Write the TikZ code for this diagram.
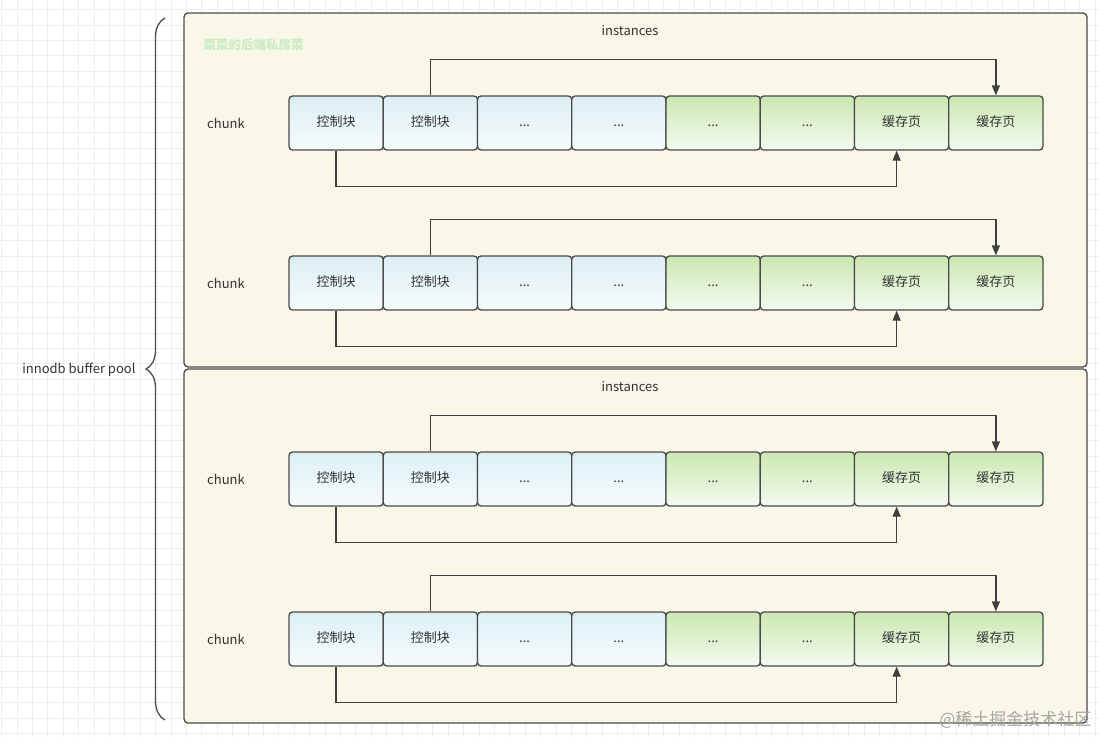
\documentclass[tikz,border=0pt]{standalone}
\usepackage{fontspec}
\setmainfont{Noto Sans CJK SC}
\usetikzlibrary{arrows.meta,decorations.pathreplacing}
\definecolor{creamfill}{HTML}{F9F7E8}
\definecolor{edgegray}{HTML}{4A4A4A}
\definecolor{linegray}{HTML}{3F3F3F}
\definecolor{textgray}{HTML}{333333}
\definecolor{gridgray}{HTML}{EDEDED}
\definecolor{blueTop}{HTML}{DCEFF4}
\definecolor{blueBot}{HTML}{F6FBFC}
\definecolor{greenTop}{HTML}{CBE8B2}
\definecolor{greenBot}{HTML}{F3FAEF}
\definecolor{markgreen}{HTML}{CDEBC3}
\newcommand{\dotz}{...}

\begin{document}
\begin{tikzpicture}[x=1pt,y=-1pt,
  every node/.style={font=\fontsize{13}{15}\selectfont, text=textgray},
  poolbox/.style={draw=edgegray, line width=1.3pt, rounded corners=4pt, fill=creamfill,
    minimum width=903pt, minimum height=354pt, inner sep=0pt},
  cellbox/.style={draw=edgegray, line width=1.3pt, rounded corners=3.5pt,
    minimum width=94.25pt, minimum height=54pt, inner sep=0pt,
    text height=9.5pt, text depth=2.5pt},
  ctrlcell/.style={cellbox, top color=blueTop, bottom color=blueBot},
  pagecell/.style={cellbox, top color=greenTop, bottom color=greenBot},
  link/.style={draw=linegray, line width=1.3pt, -{Triangle[length=10pt,width=8pt]}},
  gridline/.style={draw=gridgray, line width=0.7pt}]
\useasboundingbox[fill=white] (0,0) rectangle (1099,737);
% background grid
\foreach \gx in {1.5,16.9,...,1099} \draw[gridline] (\gx,0) -- (\gx,737);
\foreach \gy in {9.5,24.9,...,737} \draw[gridline] (0,\gy) -- (1099,\gy);

% the two instances
\node [poolbox] (inst1) at (635.5,190) {};
\node [poolbox] (inst2) at (635.5,546) {};
\node (lbl1) at (630,31) {instances};
\node (lbl2) at (630,387) {instances};
\node [anchor=west, text=markgreen, font=\fontsize{12.5}{14}\selectfont\bfseries] (mark) at (200,45) {菜菜的后端私房菜};

% innodb buffer pool brace
\draw [edgegray, line width=1.3pt, decorate, decoration={brace, amplitude=19pt}] (165,720) -- (165,18);
\node [anchor=east] (pool) at (139,370) {innodb buffer pool};

% chunks
\foreach \r/\yy in {1/123,2/283,3/479,4/639} {
  \node (k\r) at (226,\yy) {chunk};
  \foreach \i/\txt/\sty in {1/控制块/ctrlcell,2/控制块/ctrlcell,3/\dotz/ctrlcell,4/\dotz/ctrlcell,
      5/\dotz/pagecell,6/\dotz/pagecell,7/缓存页/pagecell,8/缓存页/pagecell}
    \node [\sty] (c\r-\i) at ({289+94.25*(\i-0.5)},\yy) {\txt};
  \draw [link] (c\r-2.north) -- ++(0,-36) -| (c\r-8.north);
  \draw [link] (c\r-1.south) -- ++(0,36) -| ([xshift=-5pt]c\r-7.south);
}

\node [anchor=east, text=gray!70, font=\fontsize{17}{19}\selectfont] (site) at (1095,720) {@稀土掘金技术社区};
\end{tikzpicture}
\end{document}
